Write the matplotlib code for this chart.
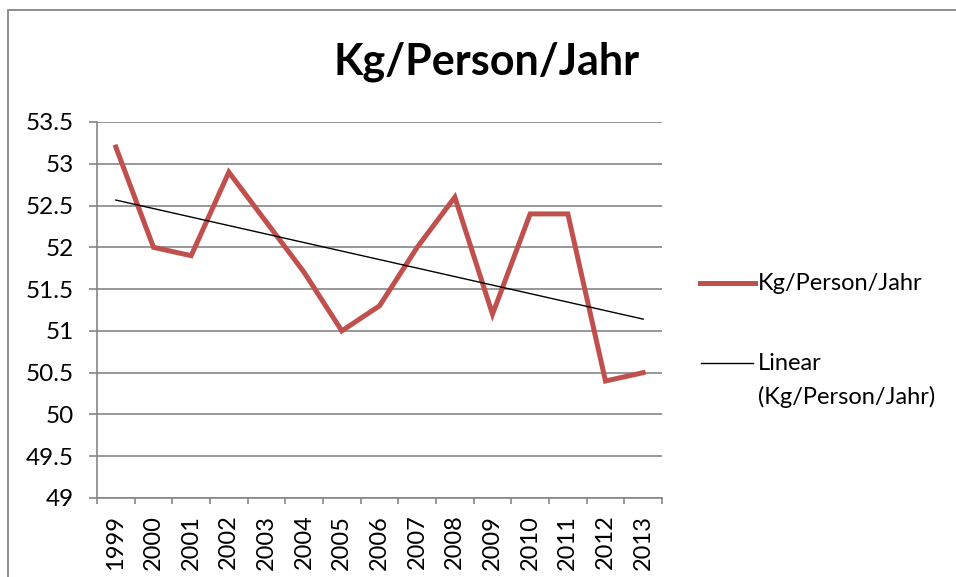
import numpy as np
import matplotlib.pyplot as plt
from matplotlib.lines import Line2D
from matplotlib.patches import Rectangle

# Data
years = ["1999", "2000", "2001", "2002", "2003", "2004", "2005", "2006",
         "2007", "2008", "2009", "2010", "2011", "2012", "2013"]
kg_per_person = [53.2, 52.0, 51.9, 52.9, 52.3, 51.7, 51.0, 51.3,
                 52.0, 52.6, 51.2, 52.4, 52.4, 50.4, 50.5]
y_ticks = [49, 49.5, 50, 50.5, 51, 51.5, 52, 52.5, 53, 53.5]
y_tick_labels = ["49", "49.5", "50", "50.5", "51", "51.5", "52", "52.5", "53", "53.5"]

plt.rcParams['font.family'] = ['Lato', 'DejaVu Sans']
W, H = 956, 577
fig = plt.figure(figsize=(W / 100, H / 100), dpi=100)

# outer chart border (cropped on right and bottom)
fig.patches.append(Rectangle((8 / W, -0.1), 1.2, 1 - 10 / H + 0.1, transform=fig.transFigure,
                             fill=False, edgecolor="#868686", linewidth=1.3))

ax = fig.add_axes([97 / W, 1 - 498 / H, (662 - 97) / W, (498 - 122) / H])

x = np.arange(len(years)) + 0.5
ax.plot(x, kg_per_person, color="#C0504D", linewidth=3.6, solid_joinstyle="miter", zorder=3)

# linear trend
slope, intercept = np.polyfit(np.arange(len(years)), kg_per_person, 1)
trend = slope * np.arange(len(years)) + intercept
ax.plot([x[0], x[-1]], [trend[0], trend[-1]], color="black", linewidth=1.0, zorder=4)

ax.set_xlim(0, len(years))
ax.set_ylim(49, 53.5)
ax.set_yticks(y_ticks)
ax.set_yticklabels(y_tick_labels, fontsize=17.5)
ax.yaxis.grid(True, color="#868686", linewidth=1.2)
ax.set_axisbelow(True)

ax.set_xticks(np.arange(len(years) + 1))
ax.set_xticklabels([])
ax.set_xticks(x, minor=True)
ax.set_xticklabels(years, minor=True, rotation=90, fontsize=17)
ax.tick_params(axis="x", which="minor", length=0, pad=12)
ax.tick_params(axis="x", which="major", length=4.5, color="#868686", width=1.2)
ax.tick_params(axis="y", length=5.8, color="#868686", width=1.2, pad=11)

for side in ["top", "right"]:
    ax.spines[side].set_visible(False)
for side in ["left", "bottom"]:
    ax.spines[side].set_color("#868686")
    ax.spines[side].set_linewidth(1.2)

fig.text(487 / W, 1 - 62 / H, "Kg/Person/Jahr", ha="center", va="center",
         fontsize=31, fontweight="bold")

# legend
fig.lines.append(Line2D([700 / W, 755 / W], [1 - 283 / H] * 2, transform=fig.transFigure,
                        color="#C0504D", linewidth=3.6))
fig.text(758 / W, 1 - 283 / H, "Kg/Person/Jahr", ha="left", va="center", fontsize=17)
fig.lines.append(Line2D([701 / W, 753 / W], [1 - 363 / H] * 2, transform=fig.transFigure,
                        color="black", linewidth=1.0))
fig.text(758 / W, 1 - 363 / H, "Linear", ha="left", va="center", fontsize=17)
fig.text(758 / W, 1 - 397 / H, "(Kg/Person/Jahr)", ha="left", va="center", fontsize=17)

fig.savefig("out.png", dpi=100)
